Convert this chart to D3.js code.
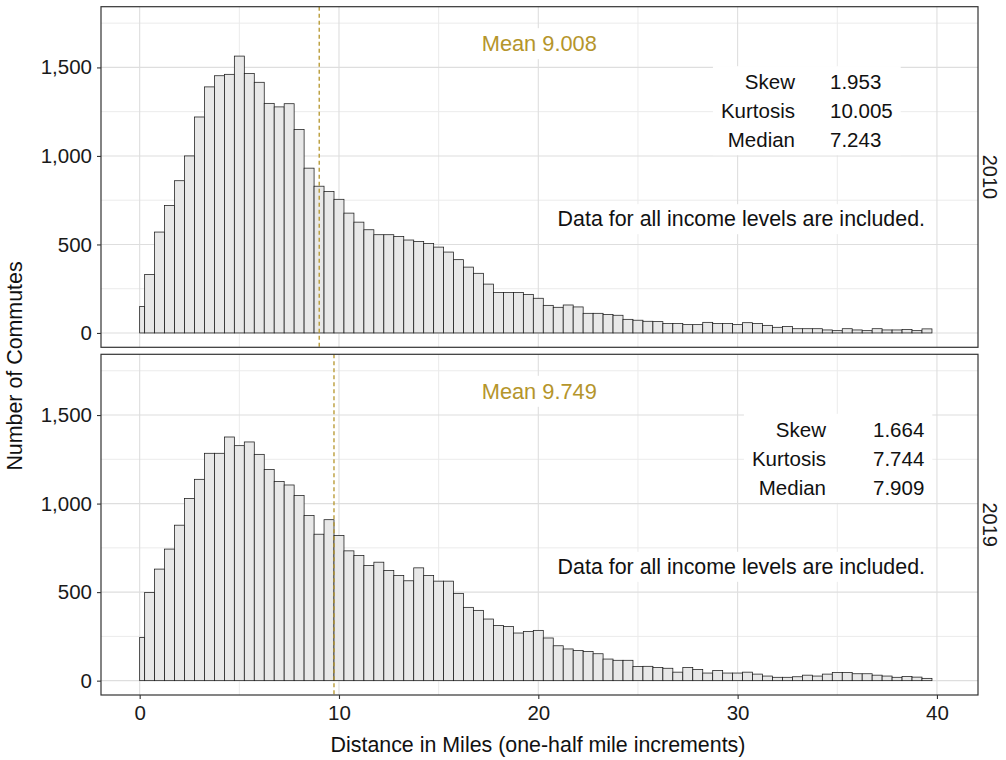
<!DOCTYPE html>
<html>
<head>
<meta charset="utf-8">
<script src="https://cdn.jsdelivr.net/npm/d3@7"></script>
<style>
  body { margin: 0; background: #fff; }
  svg { display: block; font-family: "Liberation Sans", Arial, Helvetica, sans-serif; }
</style>
</head>
<body>
<svg id="chart" width="1006" height="760"></svg>
<script>
// Commute distance histograms, half-mile bins (first bin covers 0–0.25 mi)
const years = ["2010", "2019"];

const counts2010 = [
  150, 330, 570, 720, 860, 1000, 1220, 1390, 1453, 1461, 1564, 1465, 1416, 1297, 1277, 1295, 1149, 931, 829, 799, 755,
  677, 626, 583, 555, 555, 545, 525, 517, 506, 485, 457, 414, 372, 337, 276, 229, 229, 229, 218, 196, 156, 145, 158, 147, 111, 111, 105, 100,
  77, 72, 66, 64, 53, 53, 47, 47, 60, 53, 53, 47, 58, 53, 43, 32, 36, 24, 24, 24, 17, 13, 24, 17, 13, 24, 17, 17, 19, 13, 23
];

const counts2019 = [
  244, 498, 630, 743, 878, 1028, 1137, 1284, 1284, 1376, 1327, 1348, 1278, 1192, 1124, 1105, 1045, 932, 827, 909, 820,
  733, 707, 650, 669, 622, 594, 564, 637, 594, 562, 562, 493, 414, 397, 348, 312, 306, 269, 278, 284, 241, 197, 179, 171, 165, 152, 122, 115,
  115, 80, 81, 74, 70, 48, 74, 63, 43, 57, 43, 43, 48, 37, 26, 19, 19, 22, 31, 26, 37, 46, 46, 39, 39, 31, 26, 19, 24, 20, 13
];

const means = [9.008, 9.749];
const skews = [1.953, 1.664];
const kurtoses = [10.005, 7.744];
const medians = [7.243, 7.909];

const statLabels = ["Skew", "Kurtosis", "Median"];
const xTicks = [0, 10, 20, 30, 40];
const xMinorTicks = [5, 15, 25, 35];
const yTicks = [0, 500, 1000, 1500];
const yMinorTicks = [250, 750, 1250, 1750];

const noteText = "Data for all income levels are included.";
const xTitle = "Distance in Miles (one-half mile increments)";
const yTitle = "Number of Commutes";

// Bin edges: a quarter-mile first bin, then half-mile bins up to 39.75
const binEdges = [0].concat(d3.range(0.25, 39.76, 0.5));
const bins = d3.range(binEdges.length - 1).map(i => [binEdges[i], binEdges[i + 1]]);

// ---- layout ----
const L = {
  left: 101, right: 978,
  panels: [{ top: 6.7, bottom: 347.3 }, { top: 354.3, bottom: 695 }],
  statLabelX: [795, 826], statValueX: [830, 873],
  statRowY: [75, 104, 133],
  meanLabelY: 37, meanLabelX: 20.05,
  noteRight: 925, noteY: 212.5,
  font: 20.5, noteFont: 21.4, meanFont: 21.8, titleFont: 21.4
};
const meanColor = "#b5952b";
const countsByYear = [counts2010, counts2019];

const svg = d3.select("#chart");
const x = d3.scaleLinear().domain([-1.94, 42.06]).range([L.left, L.right]);
const fmt3 = d3.format(".3f");

years.forEach((yr, p) => {
  const P = L.panels[p];
  const y = d3.scaleLinear().domain([-81, 1843]).range([P.bottom, P.top]);
  const g = svg.append("g");
  const counts = countsByYear[p];

  // grid
  g.selectAll(".ygmin").data(yMinorTicks).join("line")
    .attr("x1", L.left).attr("x2", L.right)
    .attr("y1", d => y(d)).attr("y2", d => y(d))
    .attr("stroke", "#ebebeb").attr("stroke-width", 1);
  g.selectAll(".xgmin").data(xMinorTicks).join("line")
    .attr("y1", P.top).attr("y2", P.bottom)
    .attr("x1", d => x(d)).attr("x2", d => x(d))
    .attr("stroke", "#ebebeb").attr("stroke-width", 1);
  g.selectAll(".ygmaj").data(yTicks).join("line")
    .attr("x1", L.left).attr("x2", L.right)
    .attr("y1", d => y(d)).attr("y2", d => y(d))
    .attr("stroke", "#dedede").attr("stroke-width", 1.1);
  g.selectAll(".xgmaj").data(xTicks).join("line")
    .attr("y1", P.top).attr("y2", P.bottom)
    .attr("x1", d => x(d)).attr("x2", d => x(d))
    .attr("stroke", "#dedede").attr("stroke-width", 1.1);

  // bars
  g.selectAll("rect.bar").data(bins).join("rect")
    .attr("class", "bar")
    .attr("x", d => x(d[0]))
    .attr("width", d => x(d[1]) - x(d[0]))
    .attr("y", (d, i) => y(counts[i]))
    .attr("height", (d, i) => y(0) - y(counts[i]))
    .attr("fill", "#e8e8e8").attr("stroke", "#1a1a1a").attr("stroke-width", 0.75);

  // mean line
  g.append("line")
    .attr("x1", x(means[p])).attr("x2", x(means[p]))
    .attr("y1", P.top).attr("y2", P.bottom)
    .attr("stroke", meanColor).attr("stroke-width", 1.3)
    .attr("stroke-dasharray", "4,3");

  // labels with white backing
  function backText(grp, padX, padY) {
    const bb = grp.node().getBBox();
    grp.insert("rect", ":first-child")
      .attr("x", bb.x - padX).attr("y", bb.y - padY)
      .attr("width", bb.width + 2 * padX).attr("height", bb.height + 2 * padY)
      .attr("fill", "#fff");
  }

  const mg = g.append("g");
  mg.append("text")
    .attr("x", x(L.meanLabelX)).attr("y", P.top + L.meanLabelY)
    .attr("text-anchor", "middle").attr("dominant-baseline", "central")
    .attr("font-size", L.meanFont).attr("fill", meanColor)
    .text("Mean " + fmt3(means[p]));
  backText(mg, 4, 3);

  const sg = g.append("g");
  const vals = [skews[p], kurtoses[p], medians[p]];
  statLabels.forEach((lab, r) => {
    sg.append("text")
      .attr("x", L.statLabelX[p]).attr("y", P.top + L.statRowY[r])
      .attr("text-anchor", "end").attr("dominant-baseline", "central")
      .attr("font-size", L.font).attr("fill", "#111").text(lab);
    sg.append("text")
      .attr("x", L.statValueX[p]).attr("y", P.top + L.statRowY[r])
      .attr("text-anchor", "start").attr("dominant-baseline", "central")
      .attr("font-size", L.font).attr("fill", "#111").text(fmt3(vals[r]));
  });
  backText(sg, 8, 4);

  const ng = g.append("g");
  ng.append("text")
    .attr("x", L.noteRight).attr("y", P.top + L.noteY)
    .attr("text-anchor", "end").attr("dominant-baseline", "central")
    .attr("font-size", L.noteFont).attr("fill", "#111").text(noteText);
  backText(ng, 6, 3);

  // panel border
  g.append("rect")
    .attr("x", L.left).attr("y", P.top)
    .attr("width", L.right - L.left).attr("height", P.bottom - P.top)
    .attr("fill", "none").attr("stroke", "#333").attr("stroke-width", 1.2);

  // y axis
  const ya = g.append("g").attr("transform", `translate(${L.left},0)`)
    .call(d3.axisLeft(y).tickValues(yTicks).tickFormat(d3.format(",")).tickSize(4).tickPadding(5));
  ya.select(".domain").remove();
  ya.selectAll(".tick line").attr("stroke", "#333").attr("stroke-width", 1.1);
  ya.selectAll(".tick text").attr("font-size", L.font).attr("fill", "#1a1a1a")
    .attr("font-family", "Liberation Sans, Arial, sans-serif");

  // strip label
  g.append("text")
    .attr("transform", `translate(${L.right + 12},${(P.top + P.bottom) / 2}) rotate(90)`)
    .attr("text-anchor", "middle").attr("dominant-baseline", "central")
    .attr("font-size", L.font - 0.5).attr("fill", "#1a1a1a").text(yr);

  if (p === 1) {
    const xa = svg.append("g").attr("transform", `translate(0,${P.bottom})`)
      .call(d3.axisBottom(x).tickValues(xTicks).tickSize(4).tickPadding(6));
    xa.select(".domain").remove();
    xa.selectAll(".tick line").attr("stroke", "#333").attr("stroke-width", 1.1);
    xa.selectAll(".tick text").attr("font-size", L.font).attr("fill", "#1a1a1a")
      .attr("font-family", "Liberation Sans, Arial, sans-serif");
  }
});

// axis titles
svg.append("text")
  .attr("x", 538).attr("y", 745)
  .attr("text-anchor", "middle").attr("dominant-baseline", "central")
  .attr("font-size", L.titleFont).attr("fill", "#111").text(xTitle);

svg.append("text")
  .attr("transform", `translate(15,366) rotate(-90)`)
  .attr("text-anchor", "middle").attr("dominant-baseline", "central")
  .attr("font-size", L.titleFont).attr("fill", "#111").text(yTitle);
</script>
</body>
</html>
